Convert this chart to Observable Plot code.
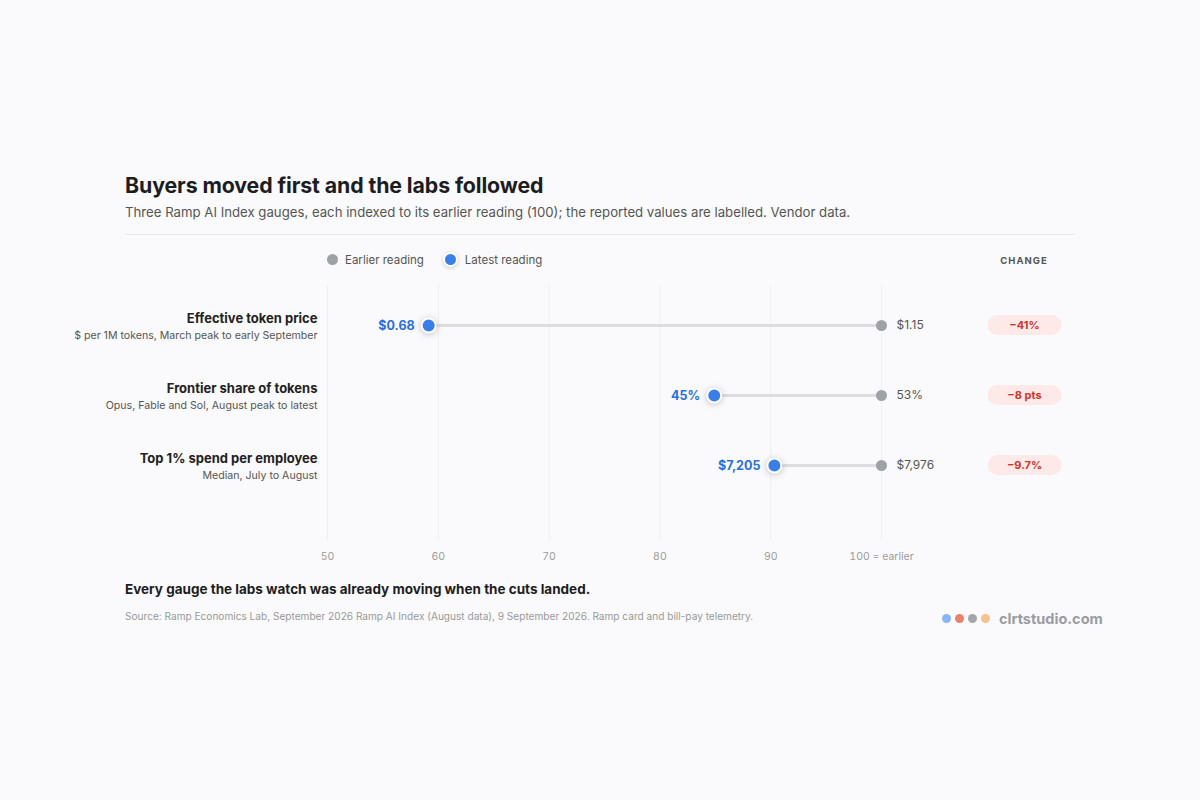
<!DOCTYPE html>
<html><head><meta charset="utf-8">
<script src="https://cdn.jsdelivr.net/npm/d3@7"></script>
<script src="https://cdn.jsdelivr.net/npm/@observablehq/plot@0.6"></script>
<style>
html,body{margin:0;padding:0;background:#fafafc;font-family:Inter,"Noto Sans",sans-serif;}
#wrap{position:relative;width:1200px;height:800px;}
.abs{position:absolute;}
#title{left:125px;top:172px;font-size:21.3px;font-weight:700;color:#1d1d1f;letter-spacing:-0.1px;}
#sub{left:125px;top:204px;font-size:13.2px;color:#555;}
#rule{left:125px;top:234px;width:950px;height:1px;background:#e7e7ea;}
#legend{left:327px;top:252px;font-size:11.5px;color:#555;display:flex;align-items:center;}
.ld{display:inline-block;border-radius:50%;margin-right:7px;}
#change{left:984px;width:80px;text-align:center;top:255px;font-size:9.5px;font-weight:700;letter-spacing:1px;color:#555;}
#chart{left:125px;top:280px;}
#note{left:125px;top:581px;font-size:13.5px;font-weight:700;color:#1d1d1f;}
#src{left:125px;top:610px;font-size:10.1px;color:#999;}
#logo{left:942px;top:610px;display:flex;align-items:center;font-size:14.5px;font-weight:700;color:#9a9ca2;}
.lg{display:inline-block;width:9px;height:9px;border-radius:50%;margin-right:4px;}
</style></head>
<body><div id="wrap">
<div id="title" class="abs">Buyers moved first and the labs followed</div>
<div id="sub" class="abs">Three Ramp AI Index gauges, each indexed to its earlier reading (100); the reported values are labelled. Vendor data.</div>
<div id="rule" class="abs"></div>
<div id="legend" class="abs">
  <span class="ld" style="width:11px;height:11px;background:#9ea1a6;"></span><span style="margin-right:21px">Earlier reading</span>
  <span class="ld" style="width:11px;height:11px;background:#3a7fe8;border:2px solid #fff;box-shadow:0 1px 4px rgba(0,0,0,0.18);margin-left:-2px;"></span><span>Latest reading</span>
</div>
<div id="change" class="abs">CHANGE</div>
<div id="chart" class="abs"></div>
<div id="note" class="abs">Every gauge the labs watch was already moving when the cuts landed.</div>
<div id="src" class="abs">Source: Ramp Economics Lab, September 2026 Ramp AI Index (August data), 9 September 2026. Ramp card and bill-pay telemetry.</div>
<div id="logo" class="abs">
  <span class="lg" style="background:#8ab4f8"></span><span class="lg" style="background:#e8826a"></span><span class="lg" style="background:#a3a6aa"></span><span class="lg" style="background:#f6c08f;margin-right:9px"></span>clrtstudio.com
</div>
</div>
<script>
const gauges = ["Effective token price", "Frontier share of tokens", "Top 1% spend per employee"];
const subtitles = ["$ per 1M tokens, March peak to early September", "Opus, Fable and Sol, August peak to latest", "Median, July to August"];
const earlierValues = [1.15, 53, 7976];
const latestValues = [0.68, 45, 7205];
const earlierLabels = ["$1.15", "53%", "$7,976"];
const latestLabels = ["$0.68", "45%", "$7,205"];
const changeLabels = ["\u221241%", "\u22128 pts", "\u22129.7%"];
const xTicks = [50, 60, 70, 80, 90, 100];

const rows = gauges.map((g, i) => ({
  gauge: g, sub: subtitles[i],
  earlier: 100,
  latest: latestValues[i] / earlierValues[i] * 100,
  eLabel: earlierLabels[i], lLabel: latestLabels[i], change: changeLabels[i]
}));

const chart = Plot.plot({
  width: 950, height: 290,
  marginLeft: 202, marginRight: 194, marginTop: 5, marginBottom: 65,
  style: {background: "transparent", fontFamily: "Inter, 'Noto Sans', sans-serif", overflow: "visible"},
  x: {domain: [50, 100], ticks: xTicks},
  y: {type: "point", domain: gauges, padding: 0.571, axis: null},
  marks: [
    Plot.ruleX(xTicks, {x: d => d, stroke: "#eeeff2", strokeWidth: 1, insetBottom: -35}),
    Plot.axisX({ticks: xTicks, tickSize: 0, tickPadding: 47, fontSize: 10.5, fill: "#9a9a9a",
      tickFormat: d => d === 100 ? "100 = earlier" : String(d)}),
    Plot.link(rows, {x1: "latest", x2: "earlier", y1: "gauge", y2: "gauge", stroke: "#dcdde1", strokeWidth: 3}),
    Plot.dot(rows, {x: "earlier", y: "gauge", r: 5.5, fill: "#9ea1a6"}),
    Plot.dot(rows, {x: "latest", y: "gauge", r: 7, fill: "#3a7fe8", stroke: "#fff", strokeWidth: 2}),
    Plot.text(rows, {x: "latest", y: "gauge", text: "lLabel", dx: -14, textAnchor: "end", fill: "#2a6fe0", fontWeight: 700, fontSize: 12.5}),
    Plot.text(rows, {x: "earlier", y: "gauge", text: "eLabel", dx: 15, textAnchor: "start", fill: "#555", fontSize: 12}),
    Plot.text(rows, {x: 50, y: "gauge", text: "gauge", dx: -10, dy: -7, textAnchor: "end", fill: "#222", fontWeight: 700, fontSize: 13}),
    Plot.text(rows, {x: 50, y: "gauge", text: "sub", dx: -10, dy: 10, textAnchor: "end", fill: "#555", fontSize: 10.6}),
    Plot.text(rows, {x: 100, y: "gauge", text: "change", dx: 143, textAnchor: "middle", fill: "#d0342c", fontWeight: 700, fontSize: 11})
  ]
});
document.getElementById("chart").appendChild(chart);

// pill backgrounds behind the change labels, sized from the rendered text
Array.from(chart.querySelectorAll("text"))
  .filter(t => changeLabels.includes(t.textContent))
  .forEach(function(t) {
    const bb = t.getBBox();
    const cx = bb.x + bb.width / 2, cy = bb.y + bb.height / 2;
    const rect = document.createElementNS("http://www.w3.org/2000/svg", "rect");
    rect.setAttribute("x", cx - 37);
    rect.setAttribute("y", cy - 10);
    rect.setAttribute("width", 74);
    rect.setAttribute("height", 20);
    rect.setAttribute("rx", 10);
    rect.setAttribute("fill", "#fde9e7");
    const tr = t.getAttribute("transform");
    if (tr) rect.setAttribute("transform", tr);
    t.parentNode.insertBefore(rect, t);
  });
Array.from(chart.querySelectorAll("circle"))
  .filter(c => getComputedStyle(c).fill === "rgb(58, 127, 232)")
  .forEach(c => c.style.filter = "drop-shadow(0 1px 3px rgba(0,0,0,0.22))");
</script>
</body></html>
